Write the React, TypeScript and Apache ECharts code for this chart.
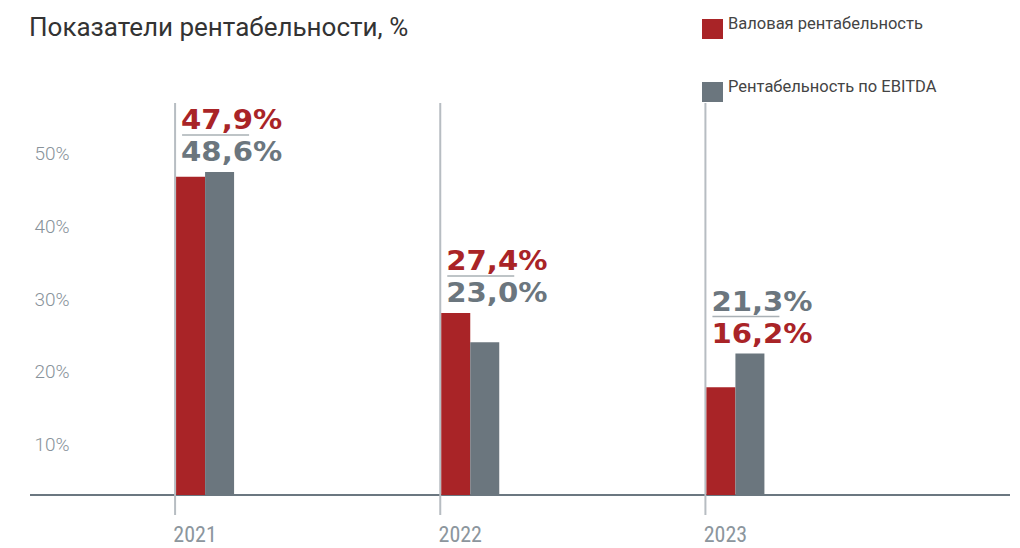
import React, { useEffect, useRef } from "react";
import * as echarts from "echarts";

const categories = ["2021", "2022", "2023"];
const grossMargin = [47.9, 27.4, 16.2];
const ebitdaMargin = [48.6, 23.0, 21.3];
const yTickValues = [10, 20, 30, 40, 50];
const upperLabelSeries = ["gross", "gross", "ebitda"];
const seriesNames = ["Валовая рентабельность", "Рентабельность по EBITDA"];

const RED = "#a92427";
const GREY = "#6b767e";
const BAR_W = 29;

const fmt = (v: number) => v.toFixed(1).replace(".", ",") + "%";

export default function App() {
  const ref = useRef<HTMLDivElement>(null);
  useEffect(() => {
    if (!ref.current) return;
    const chart = echarts.init(ref.current, null, { renderer: "svg" });
    const customData = categories.map((_, i) => [i, grossMargin[i], ebitdaMargin[i]]);
    chart.setOption({
      animation: false,
      title: {
        text: "Показатели рентабельности, %",
        left: 24,
        top: 9,
        textStyle: { fontFamily: "Roboto", fontSize: 26, fontWeight: "normal", color: "#333" },
      },
      legend: {
        data: seriesNames.map((n) => ({ name: n })),
        orient: "vertical",
        left: 697,
        top: 10,
        itemWidth: 21,
        itemHeight: 20,
        itemGap: 39,
        icon: "rect",
        selectedMode: false,
        formatter: "{a|{name}}",
        textStyle: {
          fontFamily: "Roboto",
          fontSize: 16.5,
          color: "#444",
          rich: {
            a: {
              fontFamily: "Roboto",
              fontSize: 16.5,
              color: "#444",
              padding: [0, 0, 11, 0],
            },
          },
        },
      },
      grid: { left: 72.5, right: 152, top: 103, bottom: 53 },
      xAxis: {
        type: "category",
        data: categories,
        axisLine: { show: false },
        axisTick: { show: false },
        splitLine: { show: false },
        axisLabel: {
          fontFamily: "'Liberation Sans Narrow', 'Roboto Condensed', Roboto",
          fontSize: 22,
          color: "#8c969d",
          margin: 28,
          align: "center",
          padding: [0, 20, 0, 0],
        },
      },
      yAxis: [
        { type: "value", min: 0, max: 59, show: false, position: "right" },
        {
          type: "value",
          min: 3.1,
          max: 56.9,
          position: "left",
          axisLine: { show: false },
          axisTick: { show: false },
          splitLine: { show: false },
          axisLabel: {
            customValues: yTickValues,
            formatter: (v: number) => (Math.abs(v % 10) < 1e-6 ? v + "%" : ""),
            fontFamily: "Roboto",
            fontWeight: 300,
            fontSize: 19,
            color: "#88929a",
            margin: 3,
          },
        },
      ],
      series: [
        {
          name: seriesNames[0],
          type: "bar",
          data: grossMargin,
          barWidth: BAR_W,
          barGap: "0%",
          itemStyle: { color: RED },
          yAxisIndex: 0,
        },
        {
          name: seriesNames[1],
          type: "bar",
          data: ebitdaMargin,
          barWidth: BAR_W,
          barGap: "0%",
          itemStyle: { color: GREY },
          yAxisIndex: 0,
        },
        {
          type: "custom",
          yAxisIndex: 0,
          silent: true,
          clip: false,
          z: 1,
          data: customData,
          renderItem: (params: any, api: any) => {
            const i = api.value(0);
            const g = api.value(1);
            const e = api.value(2);
            const base = api.coord([i, 0]);
            const cx = base[0];
            const lineX = cx - BAR_W - 1;
            const cs = params.coordSys;
            const topY = api.coord([i, Math.max(g, e)])[1];
            const lowerC = topY - 20;
            const upperC = lowerC - 32;
            const sepY = lowerC - 17;
            const upperIsGross = upperLabelSeries[i] === "gross";
            const textX = lineX + 6;
            const mk = (val: number, color: string, y: number) => ({
              type: "text",
              x: textX,
              y,
              scaleX: 1.08,
              style: {
                text: fmt(val),
                fill: color,
                font: 'bold 27px "DejaVu Sans"',
                verticalAlign: "middle",
                align: "left",
              },
            });
            const children: any[] = [
              {
                type: "line",
                shape: { x1: lineX, y1: cs.y, x2: lineX, y2: base[1] + 20 },
                style: { stroke: "#b7bdc2", lineWidth: 2 },
              },
              {
                type: "line",
                shape: { x1: textX + 1, y1: sepY, x2: textX + 68, y2: sepY },
                style: { stroke: "#a9b0b5", lineWidth: 1.5 },
              },
              mk(upperIsGross ? g : e, upperIsGross ? RED : GREY, upperC),
              mk(upperIsGross ? e : g, upperIsGross ? GREY : RED, lowerC),
            ];
            if (i === 0) {
              children.unshift({
                type: "line",
                shape: { x1: 30, y1: base[1], x2: 1010, y2: base[1] },
                style: { stroke: "#6b7780", lineWidth: 2 },
              });
            }
            return { type: "group", children };
          },
        },
      ],
    });
    return () => chart.dispose();
  }, []);
  return (
    <div
      ref={ref}
      style={{ position: "absolute", left: 0, top: 0, width: 1020, height: 548, background: "#fff" }}
    />
  );
}
